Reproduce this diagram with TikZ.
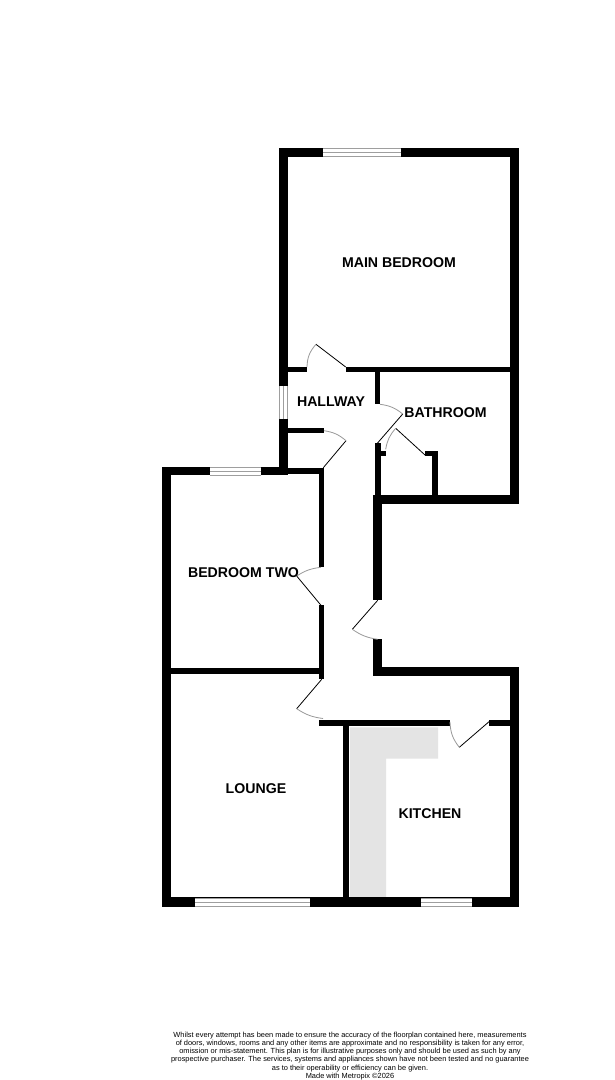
\documentclass[tikz,border=0pt]{standalone}
\usepackage{fontspec}
\setmainfont{Liberation Sans}
\definecolor{winline}{gray}{0.62}
\definecolor{swing}{gray}{0.6}
\definecolor{units}{gray}{0.895}
\tikzset{
  wallfill/.style={fill=black,draw=none},
  windowpane/.style={fill=white,draw=none},
  winglaze/.style={draw=winline,line width=0.9pt},
  leaf/.style={draw=black,line width=0.8pt},
  doorswing/.style={draw=swing,line width=0.8pt},
  roomlabel/.style={font=\bfseries\fontsize{14.15}{16}\selectfont,inner sep=0pt,anchor=center,text=black},
  fineprint/.style={font=\fontsize{7.42}{8.2}\selectfont,align=center,inner sep=0pt,anchor=south,text=black}
}
\newcommand{\planwall}[4]{\fill[wallfill] (#1,#2) rectangle (#3,#4);}
\newcommand{\planwinH}[3]{% x1 x2 ytop (9 high)
  \fill[windowpane] (#1,#3) rectangle (#2,#3+9.2);
  \draw[winglaze] (#1,#3+.4) -- (#2,#3+.4) (#1,#3+4.6) -- (#2,#3+4.6) (#1,#3+8.8) -- (#2,#3+8.8);}
\newcommand{\planwinV}[3]{% y1 y2 xleft
  \fill[windowpane] (#3,#1) rectangle (#3+9,#2);
  \draw[winglaze] (#3+.4,#1) -- (#3+.4,#2) (#3+4.5,#1) -- (#3+4.5,#2) (#3+8.6,#1) -- (#3+8.6,#2);}
\newcommand{\plandoor}[4]{% hinge tip jamb bend
  \draw[leaf] #1 -- #2;
  \draw[doorswing] #2 to[#4] #3;}
\begin{document}
\begin{tikzpicture}[x=1pt,y=-1pt]
\useasboundingbox (0,0) rectangle (615,1080);
\fill[white] (0,0) rectangle (615,1080);
% kitchen units
\fill[units] (350,727.3) -- (438,727.3) -- (438,758.7) -- (386,758.7) -- (386,897.5) -- (350,897.5) -- cycle;
% main bedroom
\planwall{279.3}{147.6}{518.5}{156.8}
\planwall{279.3}{147.6}{288.3}{475}
\planwall{509.5}{147.6}{518.5}{504}
\planwall{288}{366.8}{306.8}{372.4}
\planwall{345.7}{366.8}{518}{372.4}
% hallway / bathroom
\planwall{375}{372}{380.4}{404.3}
\planwall{375}{443.3}{380.6}{496}
\planwall{380}{450.6}{385.8}{455.8}
\planwall{425}{450.6}{437.7}{455.8}
\planwall{432.3}{450.6}{437.7}{496}
\planwall{373.4}{495}{518.5}{504}
% cupboard
\planwall{288}{427.6}{324}{432.8}
\planwall{288}{468.2}{324.3}{474}
% bedroom two
\planwall{162.2}{466.8}{288.3}{475}
\planwall{162.2}{466.8}{171}{907}
\planwall{318.8}{468.2}{324.3}{567.3}
\planwall{318.8}{605.3}{324.3}{679.3}
\planwall{171}{668.3}{324}{674.3}
% central corridor
\planwall{373.4}{495}{382}{600.3}
\planwall{373.4}{639.3}{382}{675.7}
\planwall{373.4}{666.7}{518.7}{675.7}
\planwall{509.7}{666.7}{518.7}{907}
% kitchen
\planwall{318.8}{719.5}{450}{725.7}
\planwall{489}{719.5}{510}{725.7}
\planwall{343}{720}{349}{900}
\planwall{162.2}{897.4}{518.7}{907}
% windows
\planwinH{323.3}{401}{147.6}
\planwinH{210.3}{261}{466.8}
\planwinH{195.3}{310.3}{897.6}
\planwinH{421.3}{472.3}{897.6}
\planwinV{386}{419.3}{279.3}
% doors
\plandoor{(345.7,367)}{(316,344.3)}{(307,367)}{bend right=20}
\plandoor{(377.3,443.3)}{(402.7,414)}{(380,404.3)}{bend right=16}
\plandoor{(425,455)}{(395.7,428.3)}{(385.7,449.3)}{bend right=16}
\plandoor{(323.3,467.7)}{(346,440.7)}{(324,430.7)}{bend right=16}
\plandoor{(321,605.3)}{(296.7,576)}{(321,567.3)}{bend left=13}
\plandoor{(377.7,600.3)}{(352.3,629.3)}{(377.7,639.3)}{bend right=13}
\plandoor{(321.7,679.3)}{(296.7,708.7)}{(323,718.5)}{bend right=13}
\plandoor{(489,721.7)}{(459.3,747.3)}{(450,722)}{bend left=18}
% labels
\node[roomlabel] (main) at (399,262.6) {MAIN BEDROOM};
\node[roomlabel] (hall) at (331,401.8) {HALLWAY};
\node[roomlabel] (bath) at (445.5,412.8) {BATHROOM};
\node[roomlabel] (bed2) at (243.5,572.6) {BEDROOM TWO};
\node[roomlabel] (lounge) at (256,788.6) {LOUNGE};
\node[roomlabel] (kitchen) at (430,814) {KITCHEN};
\node[fineprint] (note) at (350,1080) {Whilst every attempt has been made to ensure the accuracy of the floorplan contained here, measurements\\
of doors, windows, rooms and any other items are approximate and no responsibility is taken for any error,\\
omission or mis-statement. This plan is for illustrative purposes only and should be used as such by any\\
prospective purchaser. The services, systems and appliances shown have not been tested and no guarantee\\
as to their operability or efficiency can be given.\\
Made with Metropix ©2026};
\end{tikzpicture}
\end{document}
